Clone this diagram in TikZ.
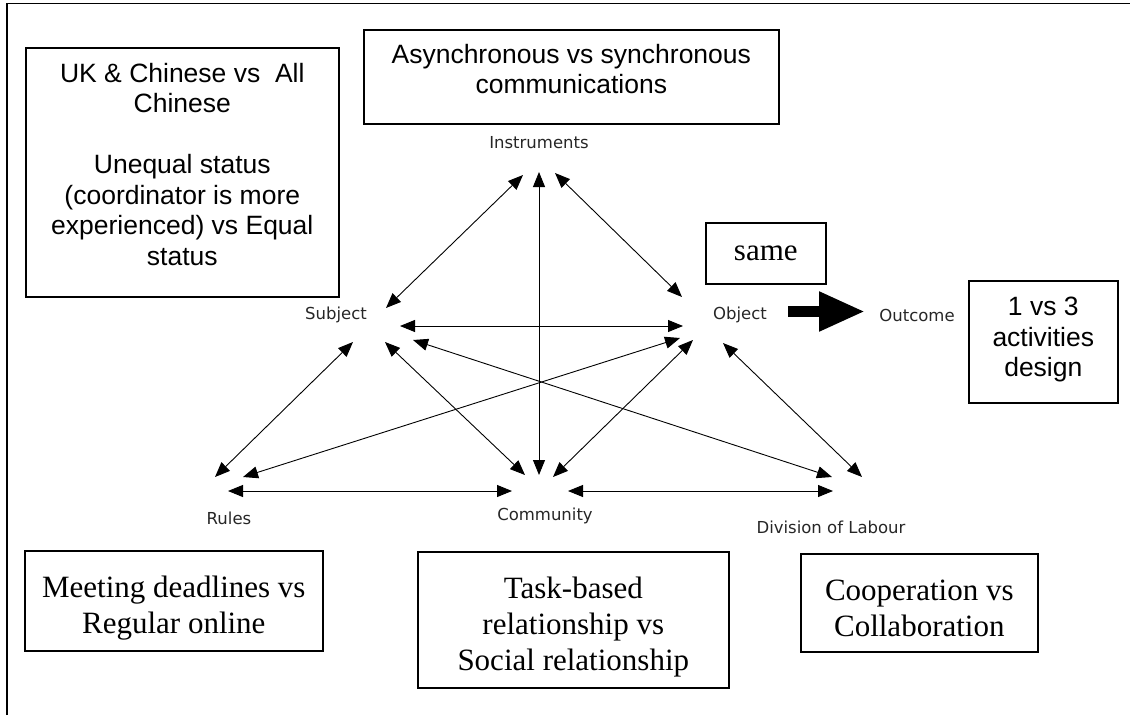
\documentclass[tikz,border=0pt]{standalone}
\usepackage{fontspec}
\usetikzlibrary{arrows.meta}
\newfontfamily\arialfont{Liberation Sans}
\newfontfamily\timesfont{Liberation Serif}
\newfontfamily\labelfont{DejaVu Sans}
\begin{document}
\begin{tikzpicture}[x=1pt,y=-1pt,
  note/.style={draw=black,line width=1.6pt,inner sep=0pt,anchor=north west},
  sanstext/.style={align=center,inner sep=0pt,font=\arialfont\fontsize{26.5}{30.5}\selectfont},
  seriftext/.style={align=center,inner sep=0pt,font=\timesfont\fontsize{31}{36}\selectfont},
  elem/.style={font=\labelfont\fontsize{16.5}{19}\selectfont,text=black!85,inner sep=0pt},
  link/.style={line width=0.9pt,
    {Triangle[length=15pt,width=12pt]}-{Triangle[length=15pt,width=12pt]}},
  bigarrow/.style={line width=11pt,-{Triangle[length=46pt,width=37pt]}}]
\useasboundingbox (0,0) rectangle (1130,715);
% frame (top and left edges only)
\draw[line width=1.8pt] (7,715) -- (7,3.5) -- (1130,3.5);

% annotation boxes
\node[note,minimum width=313pt,minimum height=249pt] (cultures) at (25,47) {};
\node[note,minimum width=415pt,minimum height=94pt] (comms) at (363,29) {};
\node[note,minimum width=120pt,minimum height=61pt] (same) at (705,222) {};
\node[note,minimum width=149pt,minimum height=122pt] (design) at (968,280) {};
\node[note,minimum width=298pt,minimum height=100pt] (rulesnote) at (24,550) {};
\node[note,minimum width=311pt,minimum height=136pt] (commnote) at (417,551) {};
\node[note,minimum width=237pt,minimum height=98pt] (labournote) at (800,553) {};

% their texts
\node[sanstext] (cultures-t) at ([yshift=8pt]cultures.center)
  {UK \& Chinese vs\ \ All\\Chinese\\[30.5pt]Unequal status\\(coordinator is more\\experienced) vs Equal\\status};
\node[sanstext] (comms-t) at ([yshift=8pt]comms.center)
  {Asynchronous vs synchronous\\communications};
\node[seriftext] (same-t) at (same.center) {same};
\node[sanstext] (design-t) at ([yshift=2pt]design.center) {1 vs 3\\activities\\design};
\node[seriftext] (rulesnote-t) at ([yshift=-7pt]rulesnote.center)
  {Meeting deadlines vs\\Regular online};
\node[seriftext] (commnote-t) at ([yshift=-7pt]commnote.center)
  {Task-based\\relationship vs\\Social relationship};
\node[seriftext] (labournote-t) at ([yshift=-6pt]labournote.center)
  {Cooperation vs\\Collaboration};

% activity system elements
\node[elem] (ins) at (539,143) {Instruments};
\node[elem] (sub) at (336,315) {Subject};
\node[elem] (obj) at (740,315) {Object};
\node[elem] (out) at (917,315) {Outcome};
\node[elem] (rul) at (229,518) {Rules};
\node[elem] (com) at (545,516) {Community};
\node[elem] (dol) at (831,527) {Division of Labour};

% arrow end points around the elements
\coordinate (ins-sw) at (523,175);
\coordinate (ins-s)  at (539,172);
\coordinate (ins-se) at (555,173);
\coordinate (sub-ne) at (386,308);
\coordinate (sub-e)  at (400,326);
\coordinate (sub-se) at (413,340);
\coordinate (sub-s)  at (385,342);
\coordinate (sub-sw) at (353,342);
\coordinate (obj-nw) at (682,297);
\coordinate (obj-w)  at (683,326);
\coordinate (obj-sw) at (680,338);
\coordinate (obj-s)  at (693,340);
\coordinate (obj-se) at (723,343);
\coordinate (rul-n)  at (215,477);
\coordinate (rul-ne) at (243,477);
\coordinate (rul-e)  at (228,491);
\coordinate (com-nw) at (525,475);
\coordinate (com-n)  at (539,475);
\coordinate (com-ne) at (553,477);
\coordinate (com-w)  at (512,491);
\coordinate (com-e)  at (568,491);
\coordinate (dol-nw) at (832,477);
\coordinate (dol-n)  at (862,477);
\coordinate (dol-w)  at (833,491);
\coordinate (obj-out) at (788,311.5);
\coordinate (out-in)  at (865,311.5);

% relations
\draw[link] (ins-sw) -- (sub-ne);
\draw[link] (ins-s)  -- (com-n);
\draw[link] (ins-se) -- (obj-nw);
\draw[link] (sub-e)  -- (obj-w);
\draw[link] (sub-sw) -- (rul-n);
\draw[link] (sub-s)  -- (com-nw);
\draw[link] (sub-se) -- (dol-nw);
\draw[link] (obj-sw) -- (rul-ne);
\draw[link] (obj-s)  -- (com-ne);
\draw[link] (obj-se) -- (dol-n);
\draw[link] (rul-e)  -- (com-w);
\draw[link] (com-e)  -- (dol-w);
\draw[bigarrow] (obj-out) -- (out-in);
\end{tikzpicture}
\end{document}
